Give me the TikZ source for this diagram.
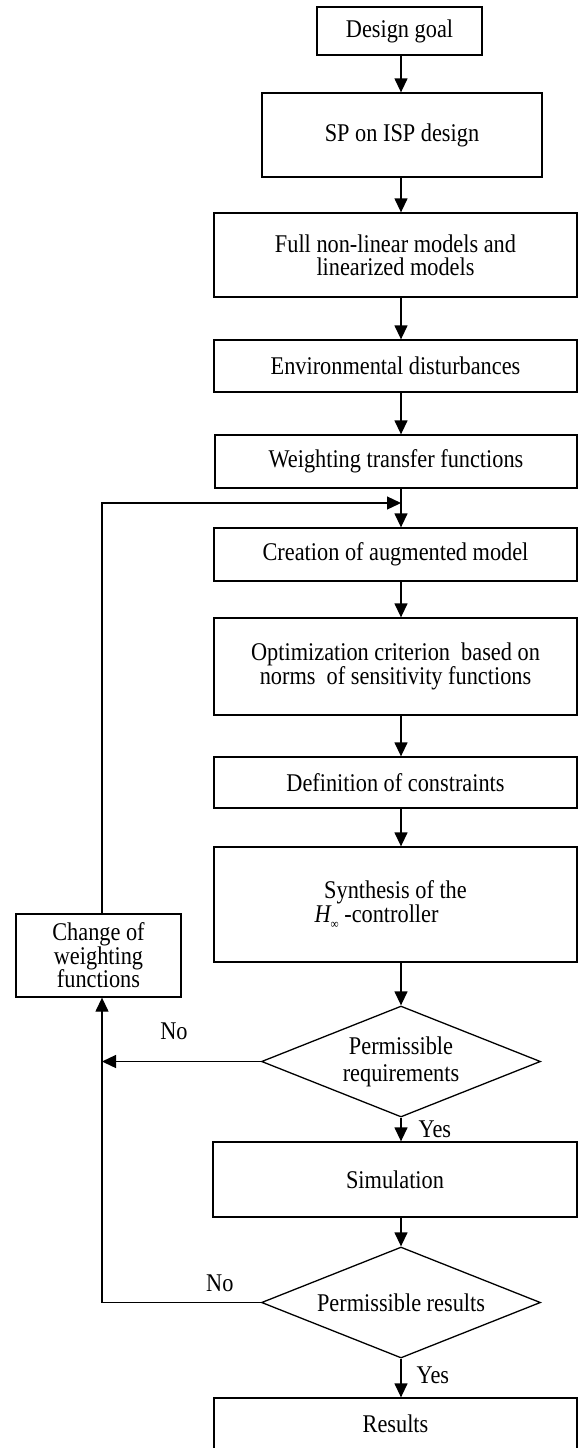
\documentclass[tikz,border=0pt]{standalone}
\usepackage{fontspec}
\setmainfont{Liberation Serif}[FakeStretch=0.875]
\usetikzlibrary{arrows.meta,shapes.geometric}

\begin{document}
\begin{tikzpicture}[x=1pt,y=-1pt,
  every node/.style={font=\fontsize{25.5}{22}\selectfont},
  box/.style={draw, line width=1.3pt, rectangle, inner sep=0pt, align=center},
  decision/.style={draw, line width=1.3pt, diamond, aspect=2.51, inner sep=0pt,
    minimum width=279pt, minimum height=111pt, align=center},
  arr/.style={line width=1.3pt, -{Triangle[length=14pt,width=13pt]}},
  lbl/.style={inner sep=0pt}
]
\useasboundingbox (0,0) rectangle (579,1448);

% main column of process steps
\node[box, minimum width=165pt, minimum height=48pt] (goal) at (399.5,31) {Design goal};
\node[box, minimum width=280pt, minimum height=84pt] (sp) at (402,135) {SP on ISP design};
\node[box, minimum width=363pt, minimum height=84pt, font=\fontsize{25.5}{23}\selectfont] (full) at (395.5,255)
  {Full non-linear models and\\linearized models};
\node[box, minimum width=363pt, minimum height=52pt] (env) at (395.5,366) {Environmental disturbances};
\node[box, minimum width=362pt, minimum height=53pt] (wtf) at (396,461.5) {Weighting transfer functions};
\node[box, minimum width=363pt, minimum height=53pt] (aug) at (395.5,554.5) {Creation of augmented model};
\node[box, minimum width=363pt, minimum height=97pt] (opt) at (395.5,666.5)
  {Optimization criterion\ \ based on\\norms\ \ of sensitivity functions};
\node[box, minimum width=363pt, minimum height=51pt] (def) at (395.5,782.5) {Definition of constraints};
\node[box, minimum width=363pt, minimum height=115pt, font=\fontsize{25.5}{23}\selectfont] (syn) at (395.5,904.5)
  {Synthesis of the\\{\itshape H}\raisebox{-0.55ex}{\fontsize{13}{13}\selectfont ∞}\ -controller\hspace*{38pt}};
\node[decision, font=\fontsize{25.5}{27}\selectfont] (d1) at (401,1061.5)
  {Permissible\\requirements};
\node[box, minimum width=364pt, minimum height=75pt] (sim) at (395,1179.5) {Simulation};
\node[decision] (d2) at (401,1302.5) {Permissible results};
\node[box, minimum width=363pt, minimum height=52pt] (res) at (395.5,1424) {Results};

% side step of the feedback loop
\node[box, minimum width=165pt, minimum height=83pt, font=\fontsize{25.5}{23.5}\selectfont] (chg) at (98.5,955.5)
  {Change of\\weighting\\functions};

% routing columns
\coordinate (cx) at (401,0);
\coordinate (lx) at (102,0);
\coordinate (fb) at (401,503);

% forward flow
\draw[arr] (goal.south -| cx) -- (sp.north -| cx);
\draw[arr] (sp.south -| cx) -- (full.north -| cx);
\draw[arr] (full.south -| cx) -- (env.north -| cx);
\draw[arr] (env.south -| cx) -- (wtf.north -| cx);
\draw[arr] (wtf.south -| cx) -- (aug.north -| cx);
\draw[arr] (aug.south -| cx) -- (opt.north -| cx);
\draw[arr] (opt.south -| cx) -- (def.north -| cx);
\draw[arr] (def.south -| cx) -- (syn.north -| cx);
\draw[arr] (syn.south -| cx) -- (d1.north);
\draw[arr] (d1.south) -- (sim.north -| cx)
  node[lbl, midway, anchor=west, xshift=17pt] {Yes};
\draw[arr] (sim.south -| cx) -- (d2.north);
\draw[arr] (d2.south) -- (res.north -| cx)
  node[lbl, midway, anchor=west, xshift=15pt, yshift=3pt] {Yes};

% "No" branches and loop back
\draw[arr] (d1.west) -- (d1.west -| lx)
  node[lbl, pos=0.547, anchor=south, yshift=21pt] {No};
\draw[arr] (d2.west) -- (d2.west -| lx)
  node[lbl, pos=0.258, anchor=south, yshift=10pt] {No}
  -- (chg.south -| lx);
\draw[arr] (chg.north -| lx) -- (lx |- fb) -- (fb);
\end{tikzpicture}
\end{document}
